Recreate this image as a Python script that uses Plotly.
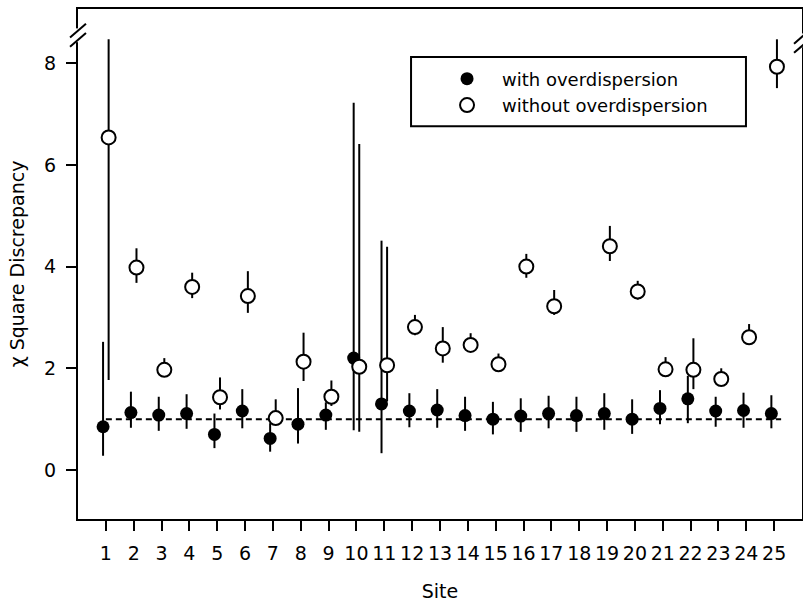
import plotly.graph_objects as go

# ----------------------------------------------------
# Data
# ----------------------------------------------------
sites = list(range(1, 26))

with_od = [0.85, 1.13, 1.08, 1.11, 0.70, 1.16, 0.62, 0.90, 1.08, 2.20,
           1.30, 1.16, 1.18, 1.07, 1.00, 1.06, 1.11, 1.07, 1.11, 1.00,
           1.21, 1.40, 1.16, 1.17, 1.11]
with_hi = [2.52, 1.54, 1.44, 1.49, 1.11, 1.59, 0.92, 1.61, 1.33, 7.22,
           4.51, 1.51, 1.59, 1.44, 1.34, 1.41, 1.46, 1.44, 1.51, 1.39,
           1.57, 1.85, 1.44, 1.52, 1.47]
with_lo = [0.28, 0.83, 0.77, 0.81, 0.43, 0.82, 0.36, 0.52, 0.79, 0.78,
           0.33, 0.84, 0.83, 0.77, 0.70, 0.75, 0.82, 0.75, 0.79, 0.71,
           0.90, 0.92, 0.85, 0.83, 0.82]

without_od = [6.54, 3.98, 1.97, 3.60, 1.43, 3.42, 1.02, 2.13, 1.44, 2.03,
              2.06, 2.81, 2.39, 2.46, 2.08, 4.00, 3.22, None, 4.40, 3.51,
              1.98, 1.97, 1.79, 2.61, 7.93]
without_hi = [8.47, 4.36, 2.20, 3.88, 1.82, 3.91, 1.39, 2.70, 1.76, 6.41,
              4.39, 3.05, 2.81, 2.69, 2.29, 4.25, 3.54, None, 4.80, 3.72,
              2.22, 2.59, 2.00, 2.87, 8.47]
without_lo = [1.77, 3.68, 1.85, 3.38, 1.19, 3.09, 0.88, 1.75, 1.26, 0.75,
              1.35, 2.65, 2.11, 2.32, 1.95, 3.78, 3.05, None, 4.11, 3.35,
              1.85, 1.59, 1.68, 2.50, 7.51]

ref_level = 1
y_ticks = [0, 2, 4, 6, 8]

FONT = "DejaVu Sans"


def up(v, hi):
    return [None if a is None else h - a for a, h in zip(v, hi)]


def down(v, lo):
    return [None if a is None else a - l for a, l in zip(v, lo)]


fig = go.Figure()

# dashed reference line at 1
fig.add_trace(go.Scatter(
    x=[sites[0], sites[-1] + 0.25],
    y=[ref_level, ref_level],
    mode="lines",
    line=dict(color="black", width=2, dash="6px,4px"),
    showlegend=False,
    hoverinfo="skip",
))

fig.add_trace(go.Scatter(
    x=[s - 0.1 for s in sites],
    y=with_od,
    mode="markers",
    name="with overdispersion",
    marker=dict(color="black", size=13, line=dict(color="black", width=0)),
    error_y=dict(type="data", symmetric=False,
                 array=up(with_od, with_hi),
                 arrayminus=down(with_od, with_lo),
                 color="black", thickness=2, width=0),
))

fig.add_trace(go.Scatter(
    x=[s + 0.1 for s in sites],
    y=without_od,
    mode="markers",
    name="without overdispersion",
    marker=dict(color="white", size=14, line=dict(color="black", width=2)),
    error_y=dict(type="data", symmetric=False,
                 array=up(without_od, without_hi),
                 arrayminus=down(without_od, without_lo),
                 color="black", thickness=2, width=0),
))

# axis break marks (left and right of the top)
breaks = [
    dict(x0=-0.011, y0=0.926, x1=0.011, y1=0.953),
    dict(x0=-0.011, y0=0.944, x1=0.011, y1=0.971),
]
shapes = [
    dict(type="rect", xref="paper", yref="paper", x0=-0.004, x1=0.004,
         y0=0.935, y1=0.962, fillcolor="white", line=dict(width=0)),
    dict(type="rect", xref="paper", yref="paper", x0=0.996, x1=1.004,
         y0=0.925, y1=0.952, fillcolor="white", line=dict(width=0)),
    # legend box
    dict(type="rect", xref="paper", yref="paper", x0=0.46, x1=0.9226,
         y0=0.77, y1=0.906, fillcolor="rgba(0,0,0,0)",
         line=dict(color="black", width=2)),
]
for b in breaks:
    shapes.append(dict(type="line", xref="paper", yref="paper",
                       line=dict(color="black", width=2), **b))
    shapes.append(dict(type="line", xref="paper", yref="paper",
                       line=dict(color="black", width=2),
                       x0=b["x0"] + 1.0, x1=b["x1"] + 1.0,
                       y0=b["y0"] - 0.012, y1=b["y1"] - 0.012))

fig.update_layout(
    width=803,
    height=603,
    margin=dict(l=78, r=1, t=9, b=84),
    paper_bgcolor="white",
    plot_bgcolor="white",
    font=dict(family=FONT, size=19, color="black"),
    shapes=shapes,
    showlegend=True,
    legend=dict(
        x=0.489, y=0.899, xanchor="left", yanchor="top",
        bgcolor="rgba(0,0,0,0)", borderwidth=0,
        font=dict(family=FONT, size=18, color="black"),
        itemwidth=60,
        tracegroupgap=0,
    ),
)

fig.update_xaxes(
    range=[0, 26],
    tickvals=sites,
    ticktext=[str(s) for s in sites],
    ticks="outside", ticklen=10, tickwidth=2, tickcolor="black",
    showline=True, linewidth=2, linecolor="black", mirror=True,
    showgrid=False, zeroline=False,
    ticklabelstandoff=6,
    automargin=False,
    title=dict(text="Site", font=dict(family=FONT, size=19), standoff=22),
)

fig.update_yaxes(
    range=[-0.964, 9.066],
    tickvals=y_ticks,
    ticks="outside", ticklen=10, tickwidth=2, tickcolor="black",
    showline=True, linewidth=2, linecolor="black", mirror=True,
    showgrid=False, zeroline=False,
    ticklabelstandoff=6,
    automargin=False,
    title=dict(text="χ Square Discrepancy", font=dict(family=FONT, size=19),
               standoff=14),
)

# drop the default page margin so the figure fills the window exactly
fig.write_html(
    "out.html",
    config={"displayModeBar": False},
    post_script="document.body.style.margin='0';document.body.style.overflow='hidden';",
)
